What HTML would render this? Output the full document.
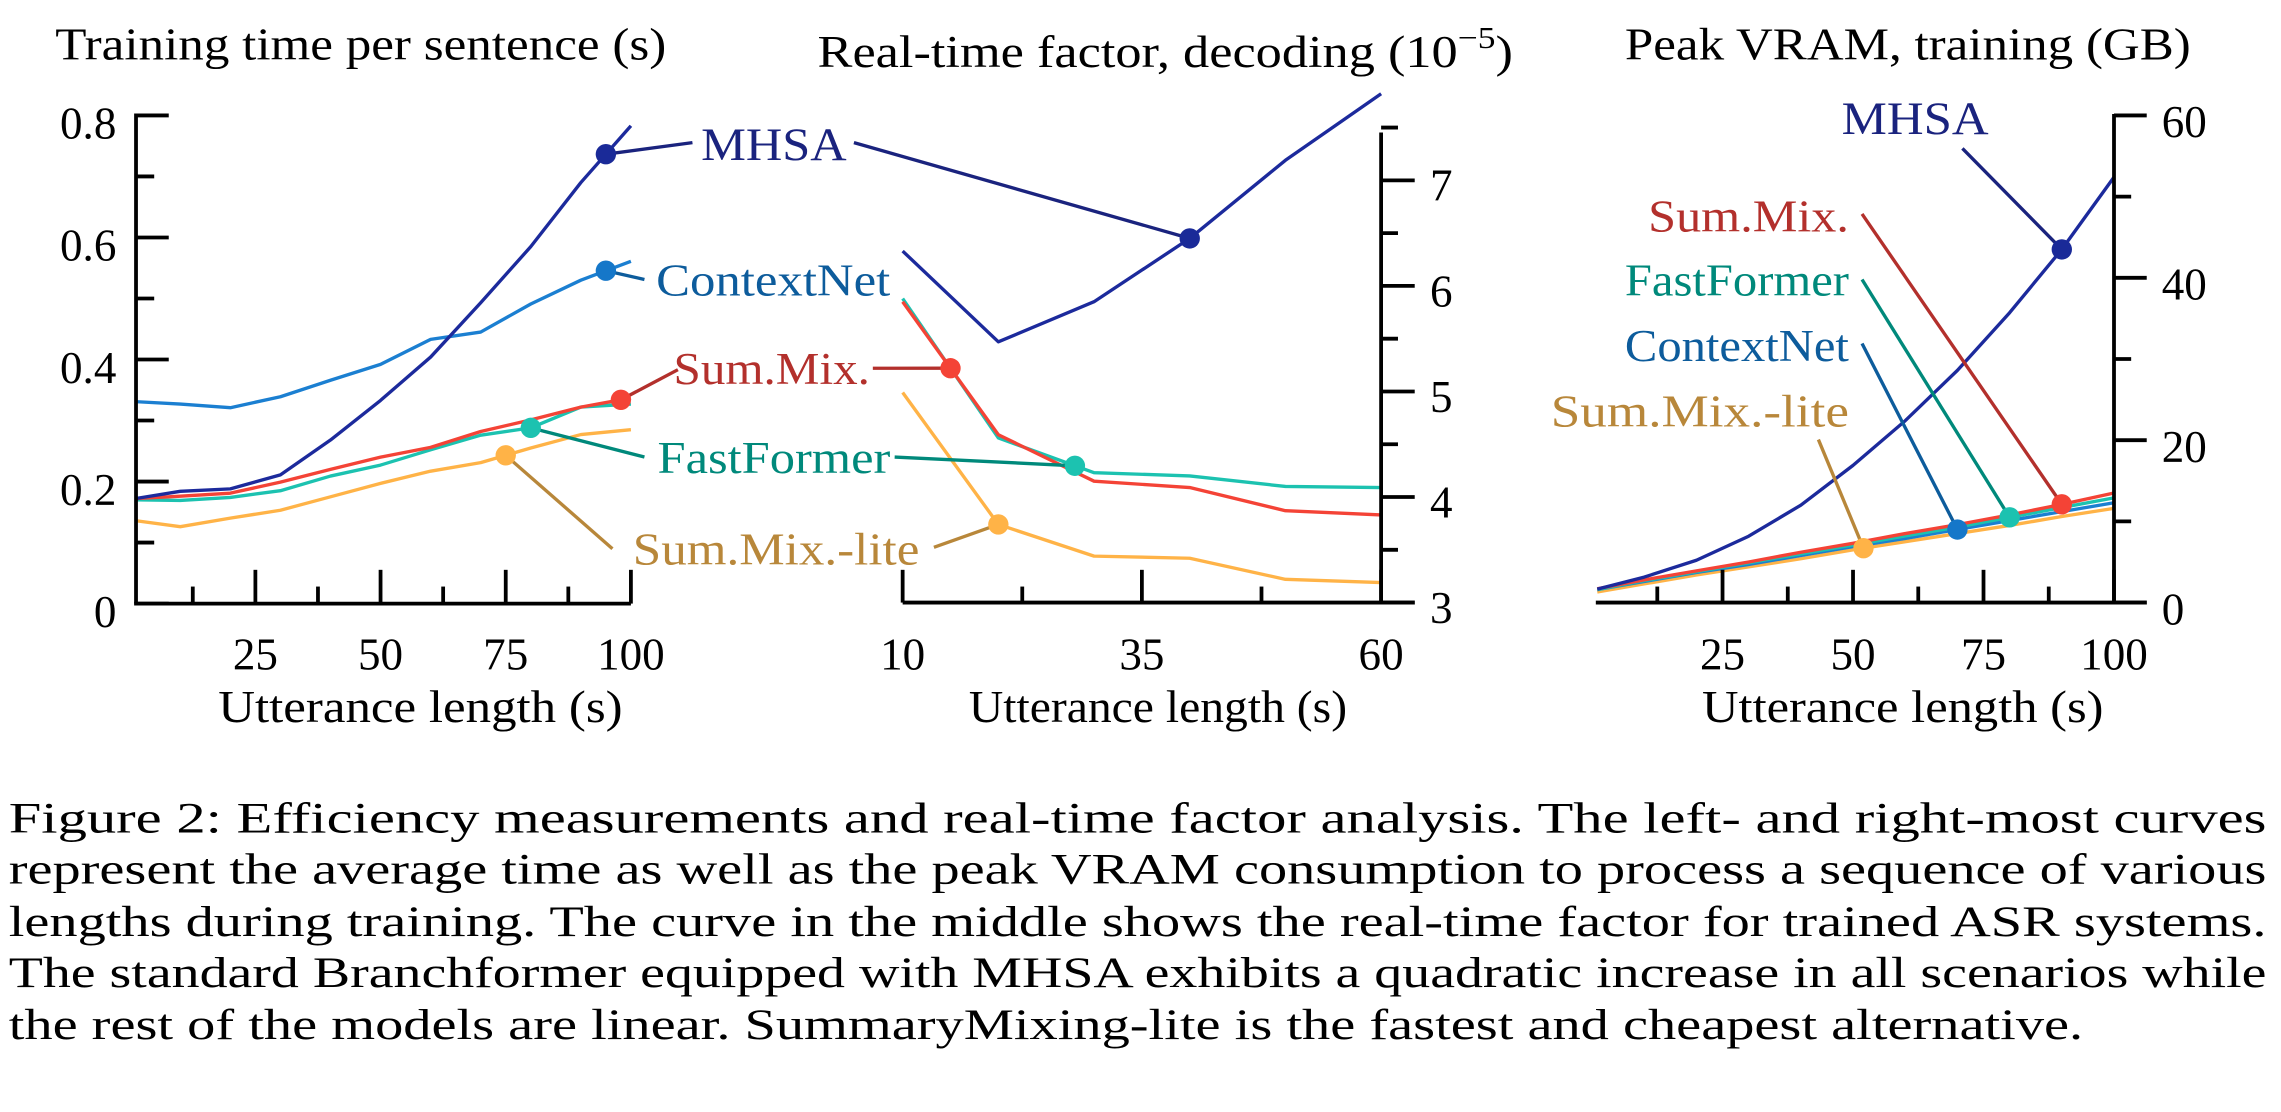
<!DOCTYPE html>
<html><head><meta charset="utf-8">
<style>
html,body{margin:0;padding:0;background:#fff;}
svg{display:block;}
text{font-family:"Liberation Serif","Times New Roman",Times,"Nimbus Roman","DejaVu Serif",serif;}
</style></head>
<body>
<svg id="fig" width="2281" height="1112" viewBox="0 0 1568 764" preserveAspectRatio="none" xmlns="http://www.w3.org/2000/svg">
<g id="g1"></g>
<g id="g2"></g>
<g id="g3"></g>
<g id="cap" font-size="30" fill="#000">
<text x="6" y="572" textLength="1552" lengthAdjust="spacingAndGlyphs">Figure 2: Efficiency measurements and real-time factor analysis. The left- and right-most curves</text>
<text x="6" y="607" textLength="1552" lengthAdjust="spacingAndGlyphs">represent the average time as well as the peak VRAM consumption to process a sequence of various</text>
<text x="6" y="643" textLength="1552" lengthAdjust="spacingAndGlyphs">lengths during training. The curve in the middle shows the real-time factor for trained ASR systems.</text>
<text x="6" y="678" textLength="1552" lengthAdjust="spacingAndGlyphs">The standard Branchformer equipped with MHSA exhibits a quadratic increase in all scenarios while</text>
<text x="6" y="714" textLength="1426" lengthAdjust="spacingAndGlyphs">the rest of the models are linear. SummaryMixing-lite is the fastest and cheapest alternative.</text>
</g>
</svg>
<script>
// ---- Chart 1: training time per sentence ----
const x1 = [1,10,20,30,40,50,60,70,80,90,100];
const t_mhsa = [0.172,0.184,0.188,0.211,0.268,0.333,0.404,0.493,0.585,0.690,0.783];
const t_ctx = [0.331,0.327,0.321,0.339,0.366,0.392,0.433,0.445,0.491,0.530,0.561];
const t_sum = [0.172,0.176,0.181,0.199,0.220,0.240,0.256,0.282,0.301,0.322,0.337];
const t_fast = [0.170,0.169,0.174,0.185,0.209,0.227,0.252,0.276,0.288,0.322,0.327];
const t_lite = [0.136,0.126,0.140,0.153,0.175,0.197,0.217,0.231,0.255,0.277,0.285];
const ticks1x = [25,50,75,100];
const ticks1y = [0,0.2,0.4,0.6,0.8];
const labels1y = ["0","0.2","0.4","0.6","0.8"];
// ---- Chart 2: real-time factor ----
const x2 = [10,20,30,40,50,60];
const r_mhsa = [6.33,5.47,5.85,6.45,7.19,7.82];
const r_sum = [5.85,4.59,4.15,4.09,3.87,3.83];
const r_fast = [5.88,4.56,4.23,4.20,4.10,4.09];
const r_lite = [4.99,3.74,3.44,3.42,3.22,3.19];
const ticks2x = [10,35,60];
const ticks2y = [3,4,5,6,7];
// ---- Chart 3: peak VRAM ----
const x3 = [1,10,20,30,40,50,60,70,80,90,100];
const v_mhsa = [1.66,3.14,5.21,8.17,12.0,16.9,22.4,28.6,35.7,43.5,52.4];
const v_sum = [1.7,2.8,3.9,5.0,6.2,7.3,8.5,9.6,10.8,12.1,13.5];
const v_fast = [1.6,2.7,3.8,4.9,6.0,7.1,8.2,9.3,10.5,11.7,12.9];
const v_ctx = [1.6,2.6,3.7,4.7,5.8,6.9,7.9,9.0,10.1,11.2,12.3];
const v_lite = [1.3,2.3,3.4,4.4,5.4,6.5,7.5,8.5,9.5,10.6,11.6];
const ticks3x = [25,50,75,100];
const ticks3y = [0,20,40,60];

const NS = "http://www.w3.org/2000/svg";
const C = {mhsa:"#1c2a9c", ctx:"#1b7fd1", sum:"#f44336", fast:"#1cc2b0", lite:"#ffb347"};
const L = {mhsa:"#1a237e", ctx:"#0d5c9c", sum:"#b3302c", fast:"#00897b", lite:"#b8873a"};
const AW = 2.6, SW = 2.3, TS = 31;

function el(parent, tag, attrs, txt){
  const e = document.createElementNS(NS, tag);
  for (const k in attrs) e.setAttribute(k, attrs[k]);
  if (txt !== undefined) e.textContent = txt;
  parent.appendChild(e); return e;
}
function lin(d0,d1,r0,r1){ return v => r0 + (v-d0)/(d1-d0)*(r1-r0); }
function series(g, xs, ys, sx, sy, color, name){
  const p = el(g,"polyline",{points: xs.map((x,i)=>sx(x).toFixed(2)+","+sy(ys[i]).toFixed(2)).join(" "), fill:"none", stroke:color, "stroke-width":SW, "stroke-linejoin":"round"});
  
  
}
function marker(g, x, y, color, name){
  const c = el(g,"circle",{cx:x, cy:y, r:"7", fill:color});
  
  
}
function line(g, x1_, y1_, x2_, y2_, color, w, name){
  const l = el(g,"line",{x1:x1_, y1:y1_, x2:x2_, y2:y2_, stroke:color, "stroke-width":w});
  
  
}
function text(g, x, y, s, size, color, anchor, name, len){
  const a = {x:x, y:y, "font-size":size, fill:color, "text-anchor":anchor||"start"};
  if (len){ a.textLength = len; a.lengthAdjust = "spacingAndGlyphs"; }
  const t = el(g,"text",a,s);
  
  
  return t;
}
function interp(xs, ys, x){
  for (let i=0;i<xs.length-1;i++){ if (x>=xs[i] && x<=xs[i+1]) return ys[i]+(ys[i+1]-ys[i])*(x-xs[i])/(xs[i+1]-xs[i]); }
  return ys[ys.length-1];
}

// ===== Chart 1 =====
(function(){
  const g = document.getElementById("g1");
  const sx = lin(0,100,89.5,433.7), sy = lin(0,0.8,414.7,79.3);
  text(g, 38, 41, "Training time per sentence (s)", 31, "#000", "start", "y-axis-title-training-time", 420);
  series(g, x1, t_ctx, sx, sy, C.ctx, "line-contextnet-time");
  series(g, x1, t_lite, sx, sy, C.lite, "line-summix-lite-time");
  series(g, x1, t_fast, sx, sy, C.fast, "line-fastformer-time");
  series(g, x1, t_sum, sx, sy, C.sum, "line-summix-time");
  series(g, x1, t_mhsa, sx, sy, C.mhsa, "line-mhsa-time");
  line(g, 93.5, 78, 93.5, 414.7, "#000", AW, "y-axis-line");
  line(g, 92.2, 414.7, 433.7, 414.7, "#000", AW, "x-axis-line");
  ticks1y.forEach((v,i)=>{
    line(g, 93.5, sy(v), 116, sy(v), "#000", AW, "y-tick");
    if (i<ticks1y.length-1) line(g, 93.5, sy(v+0.1), 106, sy(v+0.1), "#000", AW, "y-minor-tick");
    text(g, 80, sy(v)+16, labels1y[i], TS, "#000", "end", "y-tick-label");
  });
  [12.5,37.5,62.5,87.5].forEach(v=>line(g, sx(v), 414.7, sx(v), 403, "#000", AW, "x-minor-tick"));
  ticks1x.forEach(v=>{
    line(g, sx(v), 414.7, sx(v), 391.5, "#000", AW, "x-tick");
    text(g, sx(v), 460, String(v), TS, "#000", "middle", "x-tick-label");
  });
  text(g, 150, 496, "Utterance length (s)", 31, "#000", "start", "x-axis-title", 278);
  const mm = [95, interp(x1,t_mhsa,95)], mc = [95, interp(x1,t_ctx,95)], ms = [98, interp(x1,t_sum,98)], mf = [80, interp(x1,t_fast,80)], ml = [75, interp(x1,t_lite,75)];
  line(g, sx(mm[0]), sy(mm[1]), 476, 98, L.mhsa, SW, "connector-mhsa");
  line(g, sx(mc[0]), sy(mc[1]), 443, 192, L.ctx, SW, "connector-contextnet");
  line(g, sx(ms[0]), sy(ms[1]), 466, 254, L.sum, SW, "connector-summix");
  line(g, sx(mf[0]), sy(mf[1]), 443, 314, L.fast, SW, "connector-fastformer");
  line(g, sx(ml[0]), sy(ml[1]), 421, 377, L.lite, SW, "connector-summix-lite");
  marker(g, sx(mm[0]), sy(mm[1]), "#1a2a98", "marker-mhsa");
  marker(g, sx(mc[0]), sy(mc[1]), "#1577c9", "marker-contextnet");
  marker(g, sx(ms[0]), sy(ms[1]), C.sum, "marker-summix");
  marker(g, sx(mf[0]), sy(mf[1]), C.fast, "marker-fastformer");
  marker(g, sx(ml[0]), sy(ml[1]), C.lite, "marker-summix-lite");
})();

// ===== Chart 2 =====
(function(){
  const g = document.getElementById("g2");
  const sx = lin(10,60,620.5,949.4), sy = lin(3,7,414,123.9);
  const t = text(g, 562, 46, "Real-time factor, decoding (10", 31, "#000", "start", "y-axis-title-real-time-factor");
  el(t,"tspan",{dy:"-13","font-size":"21"},"−5");
  el(t,"tspan",{dy:"13"},")");
  t.setAttribute("textLength","478"); t.setAttribute("lengthAdjust","spacingAndGlyphs");
  series(g, x2, r_lite, sx, sy, C.lite, "line-summix-lite-rtf");
  series(g, x2, r_fast, sx, sy, C.fast, "line-fastformer-rtf");
  series(g, x2, r_sum, sx, sy, C.sum, "line-summix-rtf");
  series(g, x2, r_mhsa, sx, sy, C.mhsa, "line-mhsa-rtf");
  line(g, 949.4, 91, 949.4, 414, "#000", AW, "y-axis-line");
  line(g, 620.5, 414, 972.5, 414, "#000", AW, "x-axis-line");
  ticks2y.forEach(v=>{
    line(g, 949.4, sy(v), 972.5, sy(v), "#000", AW, "y-tick");
    line(g, 949.4, sy(v+0.5), 961, sy(v+0.5), "#000", AW, "y-minor-tick");
    text(g, 983, sy(v)+14, String(v), TS, "#000", "start", "y-tick-label");
  });
  [22.5,47.5].forEach(v=>line(g, sx(v), 414, sx(v), 403, "#000", AW, "x-minor-tick"));
  ticks2x.forEach(v=>{
    line(g, sx(v), 414, sx(v), 391.5, "#000", AW, "x-tick");
    text(g, sx(v), 460, String(v), TS, "#000", "middle", "x-tick-label");
  });
  text(g, 666, 496, "Utterance length (s)", 31, "#000", "start", "x-axis-title", 260);
  text(g, 482, 110, "MHSA", 32, L.mhsa, "start", "label-mhsa", 100);
  text(g, 451, 203, "ContextNet", 31, L.ctx, "start", "label-contextnet", 161);
  text(g, 463, 264, "Sum.Mix.", 31, L.sum, "start", "label-summix", 135);
  text(g, 452, 325, "FastFormer", 31, L.fast, "start", "label-fastformer", 160);
  text(g, 435, 388, "Sum.Mix.-lite", 31, L.lite, "start", "label-summix-lite", 197);
  const mm = [40, interp(x2,r_mhsa,40)], ms = [15, interp(x2,r_sum,15)], mf = [28, interp(x2,r_fast,28)], ml = [20, interp(x2,r_lite,20)];
  line(g, 587, 98, sx(mm[0]), sy(mm[1]), L.mhsa, SW, "connector-mhsa-rtf");
  line(g, 600, 253, sx(ms[0]), sy(ms[1]), L.sum, SW, "connector-summix-rtf");
  line(g, 615, 314, sx(mf[0]), sy(mf[1]), L.fast, SW, "connector-fastformer-rtf");
  line(g, 642, 376, sx(ml[0]), sy(ml[1]), L.lite, SW, "connector-summix-lite-rtf");
  marker(g, sx(mm[0]), sy(mm[1]), "#1a2a98", "marker-mhsa-rtf");
  marker(g, sx(ms[0]), sy(ms[1]), C.sum, "marker-summix-rtf");
  marker(g, sx(mf[0]), sy(mf[1]), C.fast, "marker-fastformer-rtf");
  marker(g, sx(ml[0]), sy(ml[1]), C.lite, "marker-summix-lite-rtf");
})();

// ===== Chart 3 =====
(function(){
  const g = document.getElementById("g3");
  const sx = lin(0,100,1094.4,1453.2), sy = lin(0,60,414,79.3);
  text(g, 1117, 41, "Peak VRAM, training (GB)", 31, "#000", "start", "y-axis-title-peak-vram", 389);
  series(g, x3, v_lite, sx, sy, C.lite, "line-summix-lite-vram");
  series(g, x3, v_ctx, sx, sy, C.ctx, "line-contextnet-vram");
  series(g, x3, v_fast, sx, sy, C.fast, "line-fastformer-vram");
  series(g, x3, v_sum, sx, sy, C.sum, "line-summix-vram");
  series(g, x3, v_mhsa, sx, sy, C.mhsa, "line-mhsa-vram");
  line(g, 1453.2, 78.3, 1453.2, 414, "#000", AW, "y-axis-line");
  line(g, 1097, 414, 1475.7, 414, "#000", AW, "x-axis-line");
  ticks3y.forEach(v=>{
    line(g, 1453.2, sy(v), 1475.7, sy(v), "#000", AW, "y-tick");
    if (v<60) line(g, 1453.2, sy(v+10), 1465, sy(v+10), "#000", AW, "y-minor-tick");
    text(g, 1486, sy(v)+15, String(v), TS, "#000", "start", "y-tick-label");
  });
  [12.5,37.5,62.5,87.5].forEach(v=>line(g, sx(v), 414, sx(v), 403, "#000", AW, "x-minor-tick"));
  ticks3x.forEach(v=>{
    line(g, sx(v), 414, sx(v), 391.5, "#000", AW, "x-tick");
    text(g, sx(v), 460, String(v), TS, "#000", "middle", "x-tick-label");
  });
  text(g, 1170, 496, "Utterance length (s)", 31, "#000", "start", "x-axis-title", 276);
  text(g, 1266, 92, "MHSA", 32, L.mhsa, "start", "label-mhsa-vram", 101);
  text(g, 1133, 159, "Sum.Mix.", 31, L.sum, "start", "label-summix-vram", 138);
  text(g, 1117, 203, "FastFormer", 31, L.fast, "start", "label-fastformer-vram", 154);
  text(g, 1117, 248, "ContextNet", 31, L.ctx, "start", "label-contextnet-vram", 154);
  text(g, 1066, 293, "Sum.Mix.-lite", 31, L.lite, "start", "label-summix-lite-vram", 205);
  const mm = [90, interp(x3,v_mhsa,90)], ms = [90, interp(x3,v_sum,90)], mf = [80, interp(x3,v_fast,80)], mc = [70, interp(x3,v_ctx,70)], ml = [52, interp(x3,v_lite,52)];
  line(g, 1349, 102, sx(mm[0]), sy(mm[1]), L.mhsa, SW, "connector-mhsa-vram");
  line(g, 1280, 147, sx(ms[0]), sy(ms[1]), L.sum, SW, "connector-summix-vram");
  line(g, 1280, 192, sx(mf[0]), sy(mf[1]), L.fast, SW, "connector-fastformer-vram");
  line(g, 1280, 236, sx(mc[0]), sy(mc[1]), L.ctx, SW, "connector-contextnet-vram");
  line(g, 1250, 302, sx(ml[0]), sy(ml[1]), L.lite, SW, "connector-summix-lite-vram");
  marker(g, sx(mm[0]), sy(mm[1]), "#1a2a98", "marker-mhsa-vram");
  marker(g, sx(ms[0]), sy(ms[1]), C.sum, "marker-summix-vram");
  marker(g, sx(mf[0]), sy(mf[1]), C.fast, "marker-fastformer-vram");
  marker(g, sx(mc[0]), sy(mc[1]), "#1577c9", "marker-contextnet-vram");
  marker(g, sx(ml[0]), sy(ml[1]), C.lite, "marker-summix-lite-vram");
})();
</script>
</body></html>
